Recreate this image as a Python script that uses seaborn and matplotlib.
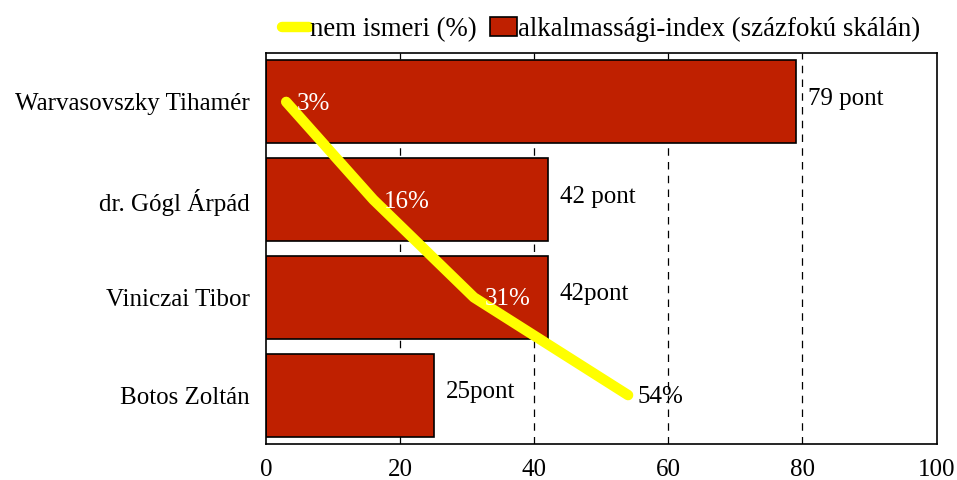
import matplotlib
matplotlib.use("Agg")
import matplotlib.pyplot as plt
import seaborn as sns
import pandas as pd
from matplotlib.lines import Line2D
from matplotlib.patches import Patch

# Data
names = ["Warvasovszky Tihamér", "dr. Gógl Árpád", "Viniczai Tibor", "Botos Zoltán"]
alkalmassagi_index = [79, 42, 42, 25]
pont_labels = ["79 pont", "42 pont", "42pont", "25pont"]
nem_ismeri = [3, 16, 31, 54]
pct_labels = ["3%", "16%", "31%", "54%"]
x_ticks = [0, 20, 40, 60, 80, 100]

sns.set_theme(style="white")
plt.rcParams["font.family"] = ["Liberation Serif", "DejaVu Serif"]
plt.rcParams["text.color"] = "black"

bar_color = "#BF2000"
line_color = "#FFFF00"
fs = 18

fig = plt.figure(figsize=(9.57, 4.8), dpi=100)
ax = fig.add_axes([0.278, 0.075, 0.7006, 0.8146])

df = pd.DataFrame({"name": names, "value": alkalmassagi_index})
sns.barplot(data=df, x="value", y="name", orient="h", color=bar_color,
            edgecolor="black", linewidth=1.2, width=0.85, saturation=1,
            ax=ax, zorder=2)

for xv in x_ticks[1:-1]:
    ax.axvline(xv, color="black", linestyle=(0, (6, 5)), linewidth=0.9, zorder=1)

ypos = list(range(len(names)))
ax.plot(nem_ismeri, ypos, color=line_color, linewidth=7.5,
        solid_capstyle="round", solid_joinstyle="round", zorder=3)

for i, (v, lab) in enumerate(zip(alkalmassagi_index, pont_labels)):
    ax.text(v + 1.8, i - 0.03, lab, ha="left", va="center", fontsize=fs,
            color="black", zorder=4)

for i, (v, lab) in enumerate(zip(nem_ismeri, pct_labels)):
    inside = v < alkalmassagi_index[i]
    ax.text(v + (1.6 if inside else 1.4), i + 0.02, lab, ha="left", va="center",
            fontsize=fs, color="white" if inside else "black", zorder=4)

ax.set_xlim(0, 100)
ax.set_ylim(3.5, -0.5)
ax.set_xticks(x_ticks)
ax.set_xticklabels([str(t) for t in x_ticks])
ax.set_xlabel("")
ax.set_ylabel("")
ax.tick_params(axis="both", length=0, labelsize=fs, colors="black")
ax.tick_params(axis="x", pad=11)
ax.tick_params(axis="y", pad=12)
for s in ax.spines.values():
    s.set_visible(True)
    s.set_color("black")
    s.set_linewidth(1.2)

handles = [Line2D([0], [0], color=line_color, linewidth=7.5, solid_capstyle="round"),
           Patch(facecolor=bar_color, edgecolor="black", linewidth=1.2)]
fig.legend(handles, ["nem ismeri (%)", "alkalmassági-index (százfokú skálán)"],
           loc="center", bbox_to_anchor=(0.628, 0.938), ncol=2, frameon=False,
           fontsize=19.4, handlelength=1.0, handletextpad=0.05, columnspacing=0.5,
           borderaxespad=0, borderpad=0, labelcolor="black")

fig.savefig("out.png", dpi=100)
